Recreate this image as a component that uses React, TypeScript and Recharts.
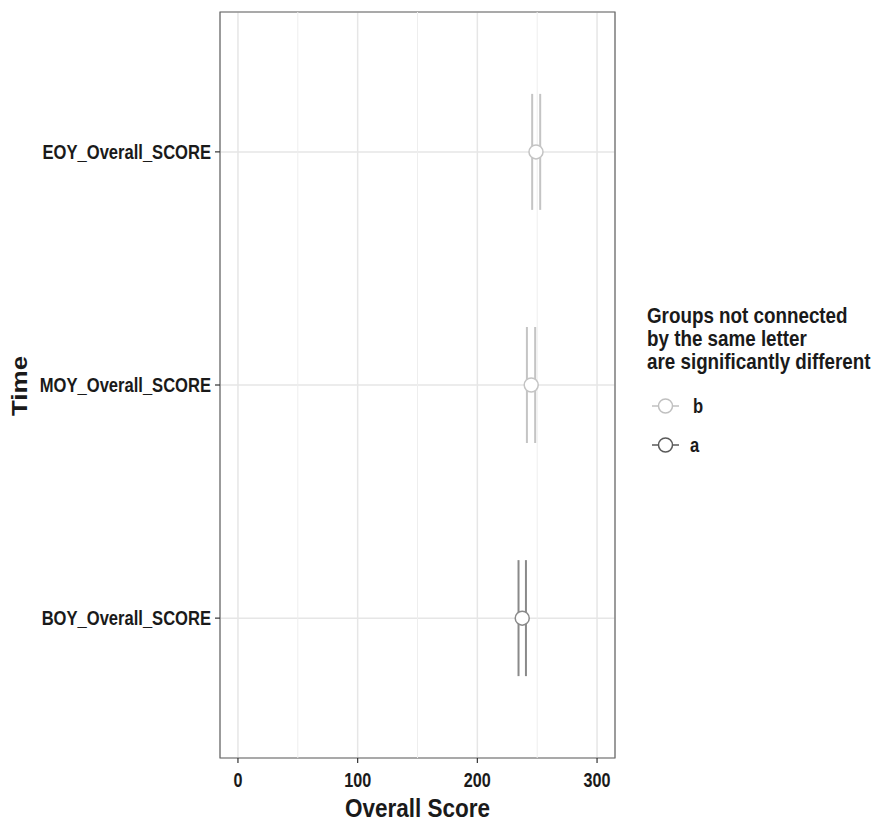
import React from 'react';
import { ScatterChart, Scatter, XAxis, YAxis, CartesianGrid, ErrorBar, ReferenceLine, ReferenceArea } from 'recharts';

const categories = ['BOY_Overall_SCORE', 'MOY_Overall_SCORE', 'EOY_Overall_SCORE'];
const means = [237.5, 245, 249];
const lowers = [234.4, 241.4, 245.8];
const uppers = [240.6, 248.3, 252.5];
const groups = ['a', 'b', 'b'];
const xTicks = [0, 100, 200, 300];
const xMinorTicks = [50, 150, 250];
const legendTitle = ['Groups not connected', 'by the same letter', 'are significantly different'];
const legendOrder = ['b', 'a'];

const groupColors: Record<string, string> = { a: '#8a8a8a', b: '#c4c4c4' };
const legendColors: Record<string, string> = { a: '#5a5a5a', b: '#c0c0c0' };

const FONT = "'Liberation Sans', Arial, sans-serif";
const SQ = 0.85;

const rows = categories.map((name, i) => ({
  name,
  x: means[i],
  y: i + 1,
  err: [means[i] - lowers[i], uppers[i] - means[i]],
  group: groups[i],
}));

const seriesGroups = ['a', 'b'];

const makeShape = (color: string) => (p: any) => (
  <circle cx={p.cx} cy={p.cy} r={7} fill="#ffffff" stroke={color} strokeWidth={1.5} />
);

const SqText = ({ x, y, anchor, size, scale, children, dy }: any) => (
  <text
    transform={`translate(${x},${y}) scale(${scale},1)`}
    x={0}
    y={0}
    dy={dy || 0}
    textAnchor={anchor}
    fontFamily={FONT}
    fontWeight="bold"
    fontSize={size}
    fill="#1a1a1a"
  >
    {children}
  </text>
);

const XTick = (props: any) => (
  <SqText x={props.x} y={props.y + 21} anchor="middle" size={19.5} scale={0.83}>
    {props.payload.value}
  </SqText>
);

const YTick = (props: any) => (
  <SqText x={props.x} y={props.y} dy="0.36em" anchor="end" size={19.5} scale={SQ}>
    {categories[props.payload.value - 1]}
  </SqText>
);

const XTitle = (props: any) => {
  const vb = props.viewBox || {};
  return (
    <SqText x={vb.x + vb.width / 2} y={817} anchor="middle" size={25} scale={0.9}>
      Overall Score
    </SqText>
  );
};

const YTitle = () => (
  <text
    transform="translate(27,386) scale(0.86,1) rotate(-90)"
    x={0}
    y={0}
    textAnchor="middle"
    fontFamily={FONT}
    fontWeight="bold"
    fontSize={26}
    fill="#1a1a1a"
  >
    Time
  </text>
);

export default function App() {
  return (
    <div style={{ position: 'absolute', left: 0, top: 0, width: 878, height: 825, background: '#fff' }}>
      <ScatterChart width={878} height={825} margin={{ top: 12, right: 263, bottom: 0, left: 0 }}>
        <CartesianGrid stroke="#e6e6e6" strokeWidth={1.5} />
        {xMinorTicks.map((t) => (
          <ReferenceLine key={t} x={t} stroke="#eeeeee" strokeWidth={1} />
        ))}
        <ReferenceArea x1={-15} x2={315} y1={0.4} y2={3.6} fill="none" stroke="#666666" strokeWidth={1.2} ifOverflow="extendDomain" />
        <XAxis
          type="number"
          dataKey="x"
          domain={[-15, 315]}
          ticks={xTicks}
          allowDataOverflow
          height={67}
          tickSize={5}
          tickMargin={3}
          axisLine={false}
          tickLine={{ stroke: '#333', strokeWidth: 1.2 }}
          tick={<XTick />}
          label={<XTitle />}
        />
        <YAxis
          type="number"
          dataKey="y"
          domain={[0.4, 3.6]}
          ticks={[1, 2, 3]}
          allowDataOverflow
          width={220}
          tickSize={5}
          tickMargin={4}
          axisLine={false}
          tickLine={{ stroke: '#333', strokeWidth: 1.2 }}
          tick={<YTick />}
          label={<YTitle />}
        />
        {seriesGroups.map((g) => (
          <Scatter
            key={g}
            name={g}
            data={rows.filter((r) => r.group === g)}
            isAnimationActive={false}
            shape={makeShape(groupColors[g])}
          >
            <ErrorBar dataKey="err" direction="x" width={58} stroke={groupColors[g]} strokeWidth={2} isAnimationActive={false} />
          </Scatter>
        ))}
      </ScatterChart>
      <svg width={878} height={825} style={{ position: 'absolute', left: 0, top: 0, pointerEvents: 'none' }}>
        {legendTitle.map((t, i) => (
          <SqText key={t} x={647} y={323 + i * 23} anchor="start" size={21.5} scale={0.875}>
            {t}
          </SqText>
        ))}
        {legendOrder.map((g, i) => {
          const cy = 406 + i * 39;
          return (
            <g key={g}>
              <line x1={652} y1={cy} x2={679} y2={cy} stroke={legendColors[g]} strokeWidth={1.5} />
              <circle cx={665.5} cy={cy} r={7} fill="#ffffff" stroke={legendColors[g]} strokeWidth={1.5} />
              <SqText x={g === 'b' ? 693 : 690} y={cy + 7} anchor="start" size={19.5} scale={SQ}>
                {g}
              </SqText>
            </g>
          );
        })}
      </svg>
    </div>
  );
}
